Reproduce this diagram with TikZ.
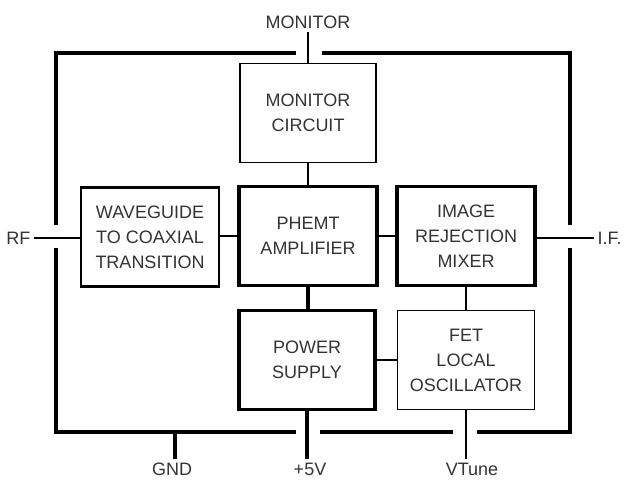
\documentclass[tikz,border=0pt]{standalone}
\usepackage{fontspec}
\setmainfont{Liberation Sans}
\usetikzlibrary{calc}

\begin{document}
\begin{tikzpicture}[x=1pt,y=-1pt,
  every node/.style={font=\fontsize{18}{25}\selectfont,align=center,text=black!80},
  blk/.style={draw,line width=1.5pt,minimum width=136pt,minimum height=99pt,inner sep=0pt},
  heavy/.style={line width=3.2pt},
  wire/.style={line width=1.5pt}]

\useasboundingbox (0,0) rectangle (628,480);

% blocks
\node[blk] (moncirc) at (308,113) {MONITOR\\CIRCUIT};
\node[blk,line width=2.2pt,minimum width=138pt] (wguide) at (150,237) {WAVEGUIDE\\TO COAXIAL\\TRANSITION};
\node[blk,heavy,minimum width=138pt] (phemt) at (308,236) {PHEMT\\AMPLIFIER};
\node[blk,heavy,minimum width=138pt] (mixer) at (466,236) {IMAGE\\REJECTION\\MIXER};
\node[blk,heavy] (psu) at (307,360) {POWER\\SUPPLY};
\node[blk,minimum width=137pt] (fetlo) at (466,360) {FET\\LOCAL\\OSCILLATOR};

% terminals
\node (mon) at (308,22) {MONITOR};
\node[anchor=east] (rf) at (34,238) {RF};
\node[anchor=west] (iff) at (594,238) {I.F.};
\node (gnd) at (172,469) {GND};
\node (vcc) at (310,469) {+5V};
\node (vtune) at (472,469) {VTune};

% housing
\draw[heavy] (296,53) -- (56,53) -- (56,225);
\draw[heavy] (322,53) -- (570,53) -- (570,225);
\draw[heavy] (56,248) -- (56,432) -- (296,432);
\draw[heavy] (320,432) -- (453,432);
\draw[heavy] (477,432) -- (570,432) -- (570,248);
\coordinate (gndtap) at (175,432);

% links
\draw[wire] (mon.south) -- (moncirc.north);
\draw[wire] (moncirc.south) -- (phemt.north);
\draw[wire] (rf.east) -- (wguide.west |- rf.east);
\draw[wire] (wguide.east |- phemt.west) -- (phemt.west);
\draw[wire] (phemt.east) -- (mixer.west);
\draw[wire] (mixer.east |- iff.west) -- (iff.west);
\draw[heavy] (phemt.south) -- (phemt.south |- psu.north);
\draw[wire] (mixer.south) -- (fetlo.north);
\draw[wire] (psu.east) -- (psu.east -| fetlo.west);
\draw[heavy] (gndtap) -- (gndtap |- gnd.north);
\draw[heavy] (psu.south) -- (psu.south |- vcc.north);
\draw[wire] (fetlo.south) -- (fetlo.south |- vtune.north);

\end{tikzpicture}
\end{document}
